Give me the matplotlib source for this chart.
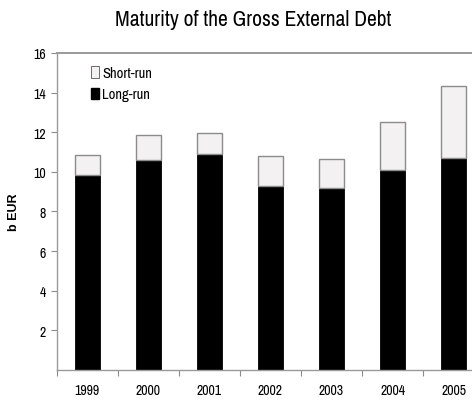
import matplotlib
matplotlib.use("Agg")
import matplotlib.pyplot as plt
from matplotlib.patches import Patch

years = ["1999", "2000", "2001", "2002", "2003", "2004", "2005"]
long_run = [9.85, 10.62, 10.9, 9.31, 9.19, 10.1, 10.72]
short_run = [1.02, 1.26, 1.05, 1.50, 1.48, 2.44, 3.62]
yticks = [2, 4, 6, 8, 10, 12, 14, 16]

NARROW = ['Archivo Narrow', 'DejaVu Sans']
plt.rcParams['font.family'] = NARROW

fig = plt.figure(figsize=(4.72, 4.02), dpi=100)
ax = fig.add_axes([0.120, 0.0771, 0.906, 0.7886])

x = list(range(len(years)))
ax.bar(x, long_run, width=0.41, color="black", edgecolor="black", linewidth=0.6)
ax.bar(x, short_run, bottom=long_run, width=0.41, color="#f3f1f1",
       edgecolor="#8c8c8c", linewidth=1.0)

ax.set_xlim(-0.5, len(years) - 0.5)
ax.set_ylim(0, 16)
ax.set_yticks(yticks)
ax.set_yticklabels([str(v) for v in yticks], fontsize=10)
ax.set_xticks([i - 0.5 for i in range(len(years) + 1)], minor=False)
ax.set_xticklabels([])
ax.set_xticks(x, minor=True)
ax.set_xticklabels(years, minor=True, fontsize=10)
ax.tick_params(axis='x', which='minor', length=0, pad=9)
ax.tick_params(axis='x', which='major', length=4, color="#8c8c8c", direction='out')
ax.tick_params(axis='y', length=4, color="#8c8c8c", pad=4)

for s in ["left", "bottom", "top"]:
    ax.spines[s].set_color("#9a9a9a")
    ax.spines[s].set_linewidth(1.0)
ax.spines["top"].set_linewidth(1.4)
ax.spines["right"].set_visible(False)

ax.set_ylabel("b EUR", fontsize=9, fontweight="bold",
              family=['Liberation Sans', 'DejaVu Sans'])
ax.yaxis.set_label_coords(-0.085, 0.5)

handles = [Patch(facecolor="#f3f1f1", edgecolor="#555555", linewidth=0.6, label="Short-run"),
           Patch(facecolor="black", edgecolor="black", label="Long-run")]
ax.legend(handles=handles, loc="upper left", bbox_to_anchor=(0.05, 1.0), frameon=False,
          fontsize=10.5, handlelength=0.55, handleheight=0.8, handletextpad=0.2,
          labelspacing=0.5)

fig.text(0.537, 0.950, "Maturity of the Gross External Debt", ha="center", va="center",
         fontsize=15.5)

fig.savefig("out.png", dpi=100)
